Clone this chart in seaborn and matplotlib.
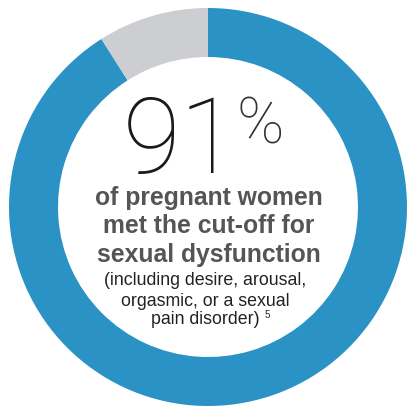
import matplotlib
matplotlib.use("Agg")
import matplotlib.pyplot as plt
import seaborn as sns

sns.set_theme(style="white")

labels = ["met cut-off", "did not"]
values = [91, 9]
colors = ["#2a92c4", "#cdced2"]
big_number = "91"
pct_sign = "%"
bold_lines = ["of pregnant women", "met the cut-off for", "sexual dysfunction"]
small_lines = ["(including desire, arousal,", "orgasmic, or a sexual", "pain disorder)"]
footnote = "5"

W, H = 407, 411
fig = plt.figure(figsize=(W / 100, H / 100), dpi=100)
ax = fig.add_axes([0, 0, 1, 1])
cx, cy = 208, 207
R = 199
ax.pie(values, colors=colors, startangle=90, counterclock=False, radius=R,
       wedgeprops=dict(width=R - 150, linewidth=0), center=(0, 0))
ax.set_xlim(-cx, W - cx)
ax.set_ylim(cy - H, cy)
ax.set_aspect("equal")
ax.axis("off")

def Y(py):
    return cy - py

def X(px):
    return px - cx

ax.text(X(181), Y(173), big_number, ha="center", va="baseline", fontsize=76,
        family="Roboto", fontweight=100, color="#1a1a1a")
ax.text(X(237), Y(143), pct_sign, ha="left", va="baseline", fontsize=46,
        family="Roboto", fontweight=100, color="#333333")
for py, s in zip([205, 233, 262], bold_lines):
    ax.text(X(209), Y(py), s, ha="center", va="baseline", fontsize=17.8,
            family="Liberation Sans", fontweight="bold", color="#555555")
for py, s in zip([285, 306, 324], small_lines):
    ax.text(X(205), Y(py), s, ha="center", va="baseline", fontsize=12.8,
            family="Liberation Sans", color="#222222")
ax.text(X(265), Y(318), footnote, ha="left", va="baseline", fontsize=7,
        family="Liberation Sans", color="#222222")

fig.savefig("out.png", dpi=100, facecolor="white")
